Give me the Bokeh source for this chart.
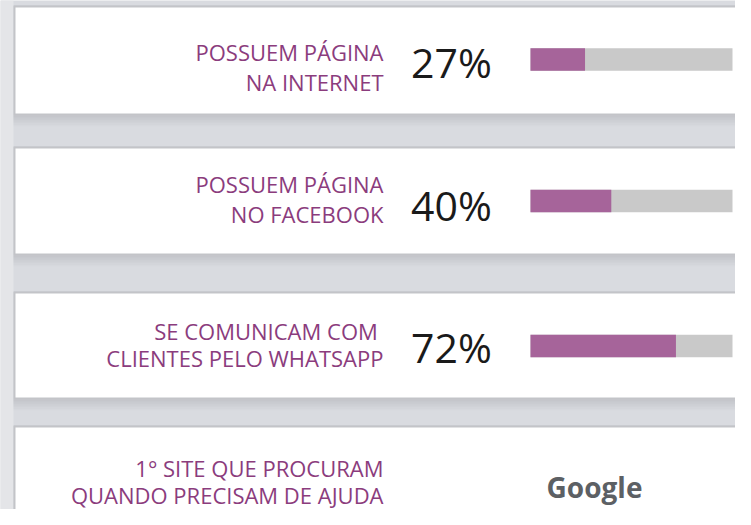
from bokeh.plotting import figure
from bokeh.models import Range1d
from bokeh.core.properties import value
from bokeh.embed import file_html
from bokeh.resources import INLINE

# ---- data ----
label_line1 = ["POSSUEM PÁGINA", "POSSUEM PÁGINA", "SE COMUNICAM  COM", "1° SITE QUE PROCURAM"]
label_line2 = ["NA INTERNET", "NO FACEBOOK", "CLIENTES PELO WHATSAPP", "QUANDO PRECISAM DE AJUDA"]
percent_values = [27, 40, 72]
percent_labels = ["27%", "40%", "72%"]
answer_text = ["Google"]
total = 100

# ---- layout (screen pixel coordinates) ----
W, H = 735, 509
OX, OY = 0, 0
card_top = [7, 148, 293, 427]
card_bot = [113, 253, 397, 540]
card_left = 15
card_right = 760
line1_mid = [51.5, 183.5, 330, 467]
line2_mid = [81.5, 213.5, 357, 494]
pct_mid = [61, 204, 346]
bar_center = [59, 200.5, 345.5]
bar_h = 22.5
BAR_X0, BAR_X1 = 530, 732
LABEL_RIGHT = 383
PCT_X = 451

BG = "#d9dbe0"
p = figure(width=W, height=H, output_backend="svg", toolbar_location=None,
           x_range=Range1d(OX, OX + W), y_range=Range1d(OY + H, OY),
           min_border=0, background_fill_color=BG, border_fill_color=BG)
p.axis.visible = False
p.grid.visible = False
p.outline_line_color = None

# percent scale mapped so that 0 -> BAR_X0 and total -> BAR_X1
pxu = (BAR_X1 - BAR_X0) / total
pstart = -(BAR_X0 - OX) / pxu
p.extra_x_ranges = {"pct": Range1d(pstart, pstart + W / pxu)}

# lighter strip on the left
p.quad(left=OX, right=card_left - 2, top=OY, bottom=OY + H, fill_color="#e4e5e8", line_color=None)

# shadows and cards
for t, b in zip(card_top, card_bot):
    for k in range(1, 9):
        p.quad(left=card_left - 2, right=card_right, top=t - 2, bottom=b + k * 1.6,
               fill_color="#8a8f99", fill_alpha=0.035, line_color=None)
    p.quad(left=card_left, right=card_right, top=t, bottom=b, fill_color="white", line_color=None)

# labels
text_color = "#8b3c7d"
font = value("Open Sans")
p.text(x=[LABEL_RIGHT] * 4, y=line1_mid, text=label_line1, text_font=font,
       text_font_size="22px", text_color=text_color, text_align="right",
       text_baseline="middle")
p.text(x=[LABEL_RIGHT] * 4, y=line2_mid, text=label_line2, text_font=font,
       text_font_size="22px", text_color=text_color, text_align="right",
       text_baseline="middle")

# percentages
p.text(x=[PCT_X] * 3, y=pct_mid, text=percent_labels, text_font=font,
       text_font_size="41px", text_color="#1a1a1a", text_align="center",
       text_baseline="middle")

# bars
p.hbar(y=bar_center, left=0, right=[total] * 3, height=bar_h, x_range_name="pct",
       fill_color="#c9c9c9", line_color=None)
p.hbar(y=bar_center, left=0, right=percent_values, height=bar_h, x_range_name="pct",
       fill_color="#a6649a", line_color=None)

# answer
p.text(x=[594], y=[486], text=answer_text, text_font=font, text_font_style="bold",
       text_font_size="28px", text_color="#5c6064", text_align="center",
       text_baseline="middle")

open("out.html", "w").write(file_html(p, INLINE))
